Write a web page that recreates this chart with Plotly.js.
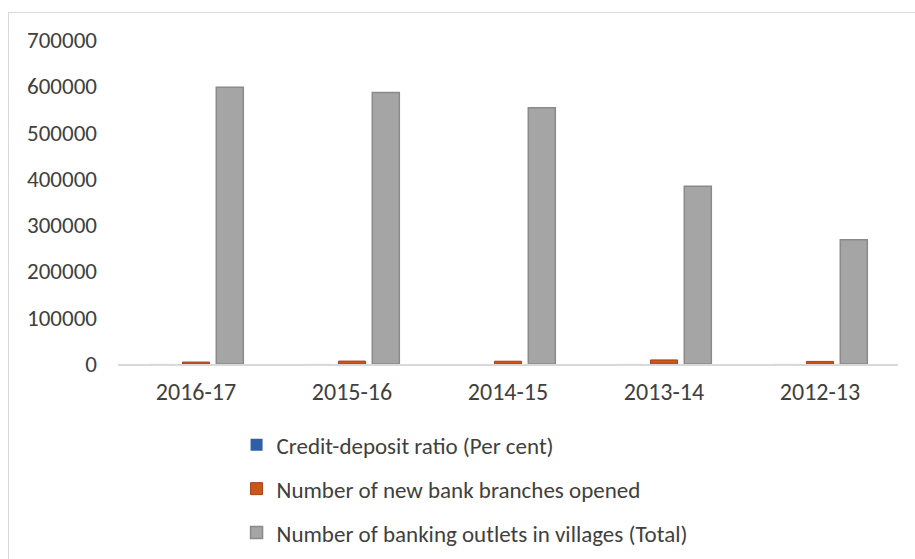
<!DOCTYPE html>
<html><head><meta charset="utf-8">
<script src="https://cdn.plot.ly/plotly-3.0.1.min.js"></script>
<style>
body{margin:0;padding:0;background:#fff;}
#wrap{position:relative;width:915px;height:559px;}
#chart{position:absolute;left:0;top:0;width:915px;height:559px;}
#frame{position:absolute;left:8px;top:12px;width:920px;height:560px;border:1px solid #d9d9d9;pointer-events:none;}
</style></head>
<body>
<div id="wrap"><div id="chart"></div><div id="frame"></div></div>
<script>
var years = ["2016-17","2015-16","2014-15","2013-14","2012-13"];
var creditDepositRatio = [76.9, 76.4, 75.6, 75.9, 78.7];
var newBranches = [4200, 6300, 6000, 8800, 5600];
var villageOutlets = [598093, 586307, 553713, 383804, 268454];
var seriesNames = ["Credit-deposit ratio (Per cent)","Number of new bank branches opened","Number of banking outlets in villages (Total)"];

var fnt = {family:"Carlito, 'Liberation Sans', Arial, sans-serif", size:23, color:"#404040"};
var xfnt = {family:"Carlito, 'Liberation Sans', Arial, sans-serif", size:24, color:"#404040"};
var traces = [
 {type:"bar", x:years, y:creditDepositRatio, name:seriesNames[0], legendgroup:"a",
  marker:{color:"#2e5fa8", line:{color:"#1f4380", width:0}}},
 {type:"bar", x:years, y:newBranches, name:seriesNames[1], legendgroup:"b",
  marker:{color:"#c9571a", line:{color:"#a8421a", width:1}}},
 {type:"bar", x:years, y:villageOutlets, name:seriesNames[2], legendgroup:"c",
  marker:{color:"#a5a5a5", line:{color:"#8a8a8a", width:1.5}}}
];
var layout = {
 width:915, height:559,
 margin:{l:118, r:17, t:40, b:195, autoexpand:false},
 paper_bgcolor:"#fff", plot_bgcolor:"#fff",
 font:fnt,
 barmode:"group", bargap:0.35, bargroupgap:0.2,
 xaxis:{type:"category", showgrid:false, showline:true, linecolor:"#d9d9d9", linewidth:2,
   ticks:"", tickfont:xfnt, ticklabelstandoff:5, zeroline:false, automargin:false},
 yaxis:{range:[0,700000], dtick:100000, showgrid:false, showline:false, zeroline:false,
   ticks:"", tickfont:fnt, tickformat:"d", ticklabelstandoff:20, fixedrange:true, automargin:false},
 showlegend:true,
 legend:{orientation:"v", x:0.152, xanchor:"left", y:-0.183, yanchor:"top",
   font:fnt, tracegroupgap:11, itemwidth:30, traceorder:"grouped"},
};
Plotly.newPlot("chart", traces, layout, {displayModeBar:false, staticPlot:true});
</script>
</body></html>
